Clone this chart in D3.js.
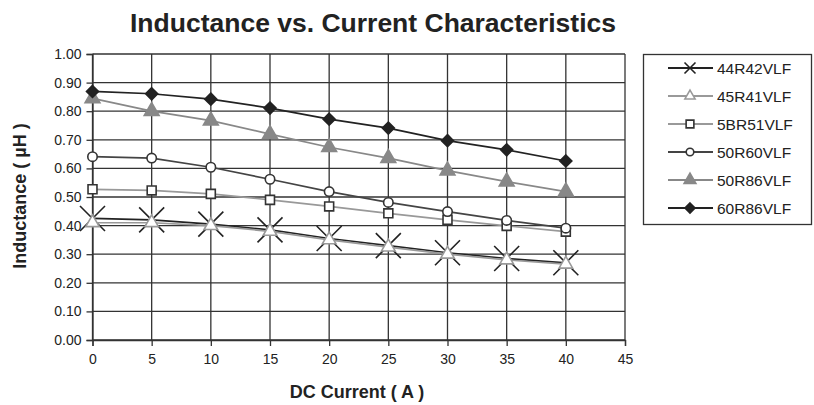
<!DOCTYPE html>
<html><head><meta charset="utf-8">
<script src="https://cdn.jsdelivr.net/npm/d3@7"></script>
<style>
html,body{margin:0;padding:0;background:#fff;}
text{font-family:"Liberation Sans",Arial,sans-serif;fill:#222;}
</style></head>
<body><svg id="c" width="814" height="405"></svg>
<script>
const current = [0,5,10,15,20,25,30,35,40];
const xTicks = [0,5,10,15,20,25,30,35,40,45];
const yTicks = [0,0.1,0.2,0.3,0.4,0.5,0.6,0.7,0.8,0.9,1.0];
const seriesNames = ["44R42VLF","45R41VLF","5BR51VLF","50R60VLF","50R86VLF","60R86VLF"];
const v44R42 = [0.425,0.42,0.405,0.385,0.355,0.33,0.305,0.285,0.27];
const v45R41 = [0.41,0.41,0.40,0.38,0.35,0.325,0.30,0.28,0.265];
const v5BR51 = [0.527,0.523,0.511,0.49,0.467,0.443,0.42,0.399,0.379];
const v50R60 = [0.641,0.636,0.604,0.562,0.519,0.481,0.449,0.418,0.391];
const v50R86 = [0.845,0.80,0.767,0.72,0.674,0.636,0.592,0.554,0.519];
const v60R86 = [0.869,0.861,0.842,0.811,0.772,0.741,0.697,0.665,0.626];
const seriesValues = [v44R42,v45R41,v5BR51,v50R60,v50R86,v60R86];

const styles = [
  {line:"#222", marker:"x", stroke:"#222", fill:"none", size:12.5, lsize:5.5},
  {line:"#999", marker:"tri", stroke:"#999", fill:"#fff", size:80, lsize:45},
  {line:"#999", marker:"sq", stroke:"#333", fill:"#fff", size:80, lsize:60},
  {line:"#444", marker:"circ", stroke:"#333", fill:"#fff", size:70, lsize:45},
  {line:"#888", marker:"tri", stroke:"#888", fill:"#888", size:95, lsize:60},
  {line:"#222", marker:"dia", stroke:"#222", fill:"#222", size:6, lsize:5}
];

const svg = d3.select("#c");
const x = d3.scaleLinear().domain([0,45]).range([92.5,625]);
const y = d3.scaleLinear().domain([0,1]).range([340,54]);

// grid
svg.append("g").selectAll("line.h").data(yTicks).join("line")
  .attr("x1",x(0)).attr("x2",x(45)).attr("y1",d=>y(d)).attr("y2",d=>y(d))
  .attr("stroke","#333").attr("stroke-width",1.3);
svg.append("g").selectAll("line.v").data(xTicks).join("line")
  .attr("y1",y(0)).attr("y2",y(1)).attr("x1",d=>x(d)).attr("x2",d=>x(d))
  .attr("stroke","#333").attr("stroke-width",1.3);

// axes
const ya = svg.append("g").attr("transform",`translate(${x(0)},0)`)
  .call(d3.axisLeft(y).tickValues(yTicks).tickFormat(d3.format(".2f")).tickSize(6).tickPadding(5));
const xa = svg.append("g").attr("transform",`translate(0,${y(0)})`)
  .call(d3.axisBottom(x).tickValues(xTicks).tickSize(6).tickPadding(5));
[ya,xa].forEach(a=>{
  a.select(".domain").attr("stroke","#333").attr("stroke-width",1.3);
  a.selectAll(".tick line").attr("stroke","#333").attr("stroke-width",1.3);
  a.selectAll(".tick text").attr("font-size",14).attr("fill","#222")
   .style("font-family","'Liberation Sans',Arial,sans-serif");
});
xa.selectAll(".tick text").attr("dy","0.9em");

function markerPath(type,size){
  if(type==="x"){
    const r=size;
    return `M${-r},${-r}L${r},${r}M${-r},${r}L${r},${-r}`;
  }
  if(type==="dia"){
    const r=size;
    return `M0,${-r}L${r},0L0,${r}L${-r},0Z`;
  }
  const t = {tri:d3.symbolTriangle, sq:d3.symbolSquare, circ:d3.symbolCircle}[type];
  return d3.symbol().type(t).size(size)();
}

const line = d3.line().x((d,i)=>x(current[i])).y(d=>y(d));
seriesValues.forEach((vals,si)=>{
  const st = styles[si];
  const g = svg.append("g");
  g.append("path").attr("d",line(vals)).attr("fill","none")
    .attr("stroke",st.line).attr("stroke-width",1.7);
  g.selectAll("path.m").data(vals).join("path")
    .attr("transform",(d,i)=>`translate(${x(current[i])},${y(d)})`)
    .attr("d",markerPath(st.marker,st.size))
    .attr("fill",st.fill).attr("stroke",st.stroke).attr("stroke-width",1.6);
});

// title
svg.append("text").attr("x",373).attr("y",32).attr("text-anchor","middle")
  .attr("font-size",26.5).attr("font-weight","bold").attr("fill","#1a1a1a")
  .text("Inductance vs. Current Characteristics");
svg.append("text").attr("x",357).attr("y",398).attr("text-anchor","middle")
  .attr("font-size",18).attr("font-weight","bold").text("DC Current ( A )");
svg.append("text").attr("transform","translate(26,196) rotate(-90)").attr("text-anchor","middle")
  .attr("font-size",18).attr("font-weight","bold").text("Inductance ( µH )");

// legend
const lg = svg.append("g");
lg.append("rect").attr("x",643.5).attr("y",54.5).attr("width",168).attr("height",170)
  .attr("fill","#fff").attr("stroke","#333").attr("stroke-width",1.3);
seriesNames.forEach((n,i)=>{
  const st = styles[i];
  const cy = 68 + i*28;
  lg.append("line").attr("x1",668).attr("x2",713).attr("y1",cy).attr("y2",cy)
    .attr("stroke",st.line).attr("stroke-width",1.8);
  lg.append("path").attr("transform",`translate(690,${cy})`).attr("d",markerPath(st.marker,st.lsize))
    .attr("fill",st.fill).attr("stroke",st.stroke).attr("stroke-width",1.6);
  lg.append("text").attr("x",717).attr("y",cy).attr("dy","0.36em").attr("font-size",15.5).text(n);
});
</script></body></html>
